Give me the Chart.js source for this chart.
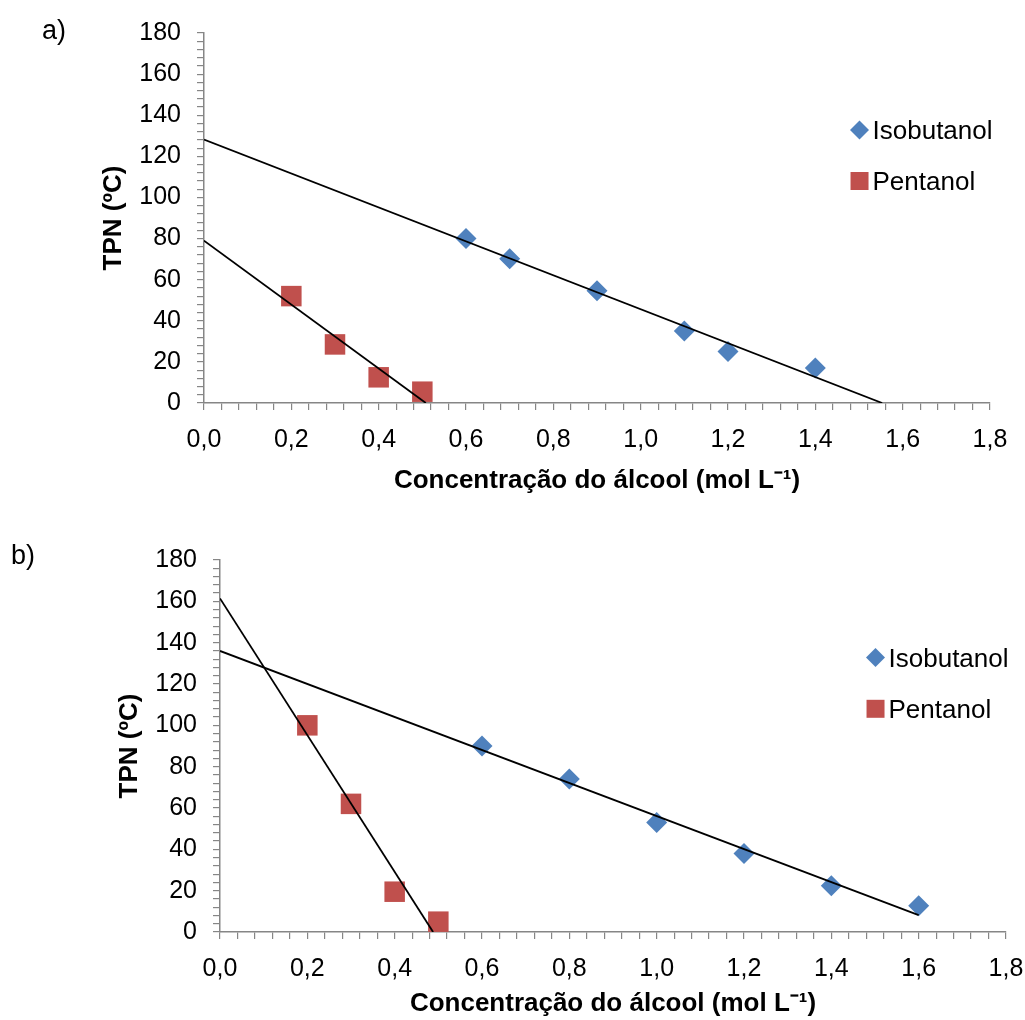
<!DOCTYPE html>
<html>
<head>
<meta charset="utf-8">
<script src="https://cdn.jsdelivr.net/npm/chart.js@4.4.1/dist/chart.umd.min.js"></script>
<style>
body { margin: 0; background: #fff; font-family: "Liberation Sans", Arial, sans-serif; }
.panel { position: relative; width: 1025px; height: 510px; }
.tag { position: absolute; font-size: 27px; color: #000; line-height: 1; }
</style>
</head>
<body>
<div class="panel"><canvas id="chartA"></canvas><div class="tag" style="left:42px;top:17px">a)</div></div>
<div class="panel"><canvas id="chartB"></canvas><div class="tag" style="left:11px;top:32px">b)</div></div>
<script>
const xTickLabels = ['0,0', '0,2', '0,4', '0,6', '0,8', '1,0', '1,2', '1,4', '1,6', '1,8'];
const yTickLabels = ['0', '20', '40', '60', '80', '100', '120', '140', '160', '180'];
const seriesNames = ['Isobutanol', 'Pentanol'];
const xTitle = 'Concentração do álcool (mol L⁻¹)';
const yTitle = 'TPN (ºC)';

// a)
const isoA_x = [0.6, 0.7, 0.9, 1.1, 1.2, 1.4];
const isoA_y = [80, 70.2, 54.6, 35, 25, 17];
const penA_x = [0.2, 0.3, 0.4, 0.5];
const penA_y = [52, 28.5, 12.5, 5.5];
const isoA_fitX = [0, 1.553];
const isoA_fitY = [128.2, 0];
const penA_fitX = [0, 0.508];
const penA_fitY = [79, 0];

// b)
const isoB_x = [0.6, 0.8, 1.0, 1.2, 1.4, 1.6];
const isoB_y = [90, 74, 53, 38, 22.4, 12.7];
const penB_x = [0.2, 0.3, 0.4, 0.5];
const penB_y = [100, 62, 19.5, 5];
const isoB_fitX = [0, 1.6];
const isoB_fitY = [136, 8.2];
const penB_fitX = [0, 0.488];
const penB_fitY = [161.4, 0];

const FONT = '"Liberation Sans", Arial, sans-serif';
const AXIS = '#868686';
const BLUE = '#4F81BD';
const RED = '#C0504D';

const pts = (xs, ys) => xs.map((x, i) => ({ x: x, y: ys[i] }));

// legend drawn inside the plot area, like the original
const legendInside = {
  id: 'legendInside',
  afterDatasetsDraw(chart) {
    const { ctx, chartArea: a } = chart;
    const rows = [0.262, 0.40];
    ctx.save();
    ctx.font = '26px ' + FONT;
    ctx.textBaseline = 'middle';
    seriesNames.forEach((name, i) => {
      const x = a.left + 0.834 * a.width;
      const y = a.top + rows[i] * a.height;
      ctx.beginPath();
      if (i === 0) {
        ctx.fillStyle = BLUE;
        ctx.moveTo(x, y - 9.5); ctx.lineTo(x + 9.5, y); ctx.lineTo(x, y + 9.5); ctx.lineTo(x - 9.5, y);
        ctx.closePath();
      } else {
        ctx.fillStyle = RED;
        ctx.rect(x - 9, y - 9, 18, 18);
      }
      ctx.fill();
      ctx.fillStyle = '#000';
      ctx.fillText(name, x + 13, y + 2);
    });
    ctx.restore();
  }
};

function makeChart(id, iso, pen, isoFit, penFit, geo) {
  new Chart(document.getElementById(id), {
    type: 'scatter',
    data: {
      datasets: [
        { label: seriesNames[0], data: iso, pointStyle: 'rectRot', pointRadius: 10.5,
          backgroundColor: BLUE, borderColor: BLUE, borderWidth: 0, order: 1 },
        { label: seriesNames[1], data: pen, pointStyle: 'rect', pointRadius: 14.5,
          backgroundColor: RED, borderColor: RED, borderWidth: 0, order: 1 },
        { label: 'fit1', data: isoFit, showLine: true, pointRadius: 0,
          borderColor: '#000', borderWidth: 1.8, order: 0 },
        { label: 'fit2', data: penFit, showLine: true, pointRadius: 0,
          borderColor: '#000', borderWidth: 1.8, order: 0 }
      ]
    },
    options: {
      responsive: true,
      maintainAspectRatio: false,
      animation: false,
      layout: { padding: { left: 0, top: geo.top, right: geo.right, bottom: 0 } },
      plugins: { legend: { display: false }, tooltip: { enabled: false } },
      scales: {
        x: {
          min: 0, max: 1.8,
          ticks: {
            stepSize: 0.04, autoSkip: false, maxRotation: 0, padding: 15,
            color: '#000', font: { family: FONT, size: 25 },
            callback: (v, i) => (i % 5 === 0 ? xTickLabels[i / 5] : '')
          },
          grid: { drawOnChartArea: false, tickLength: 7, color: AXIS, lineWidth: 1.2 },
          border: { color: AXIS, width: 1.5 },
          title: { display: true, text: xTitle, color: '#000',
                   font: { family: FONT, size: 26, weight: 'bold' },
                   padding: { top: 0, bottom: geo.xTitlePad } },
          afterFit(s) { s.height = geo.xAxisH; s.paddingLeft = 0; s.paddingRight = 0; }
        },
        y: {
          min: 0, max: 180,
          ticks: {
            stepSize: 4, autoSkip: false, padding: 16,
            color: '#000', font: { family: FONT, size: 25 },
            callback: (v, i) => (i % 5 === 0 ? yTickLabels[i / 5] : '')
          },
          grid: { drawOnChartArea: false, tickLength: 7, color: AXIS, lineWidth: 1.2 },
          border: { color: AXIS, width: 1.5 },
          title: { display: true, text: yTitle, color: '#000',
                   font: { family: FONT, size: 26, weight: 'bold' },
                   padding: { top: geo.yTitlePad, bottom: 0 } },
          afterFit(s) { s.width = geo.yAxisW; s.paddingTop = 0; s.paddingBottom = 0; }
        }
      }
    },
    plugins: [legendInside]
  });
}

makeChart('chartA', pts(isoA_x, isoA_y), pts(penA_x, penA_y),
  pts(isoA_fitX, isoA_fitY), pts(penA_fitX, penA_fitY),
  { top: 33, right: 35, yAxisW: 204, xAxisH: 107, xTitlePad: 14, yTitlePad: 98 });

makeChart('chartB', pts(isoB_x, isoB_y), pts(penB_x, penB_y),
  pts(isoB_fitX, isoB_fitY), pts(penB_fitX, penB_fitY),
  { top: 50, right: 19, yAxisW: 220, xAxisH: 88, xTitlePad: 1, yTitlePad: 114 });
</script>
</body>
</html>
